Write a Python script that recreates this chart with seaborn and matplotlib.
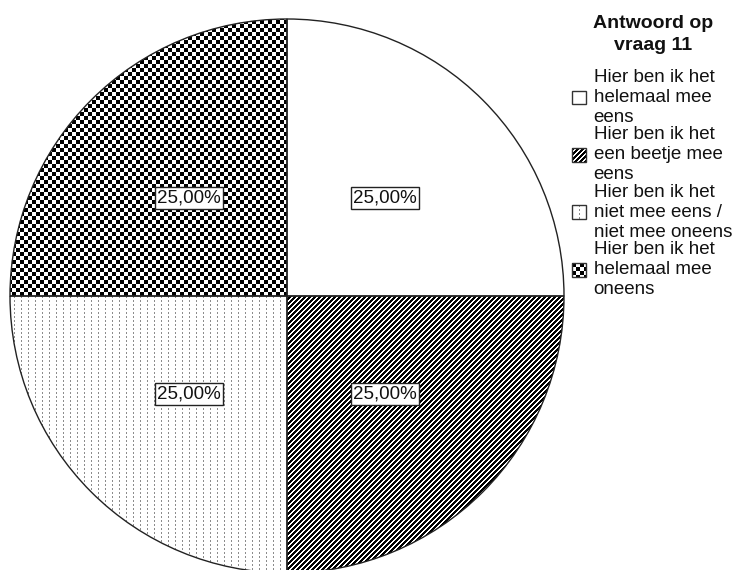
import numpy as np
import matplotlib
matplotlib.use("Agg")
import matplotlib.pyplot as plt
import seaborn as sns
from matplotlib.patches import Rectangle

sns.set_theme(style="white")
plt.rcParams['font.family'] = ['Liberation Sans', 'DejaVu Sans']

# ---- data ----
categories = [
    "Hier ben ik het\nhelemaal mee\neens",
    "Hier ben ik het\neen beetje mee\neens",
    "Hier ben ik het\nniet mee eens /\nniet mee oneens",
    "Hier ben ik het\nhelemaal mee\noneens",
]
values = [25.0, 25.0, 25.0, 25.0]
legend_title = "Antwoord op\nvraag 11"
patterns = ["white", "diag", "dots", "checker"]

W, H = 732, 570
fig = plt.figure(figsize=(W / 100, H / 100), dpi=100)
fig.patch.set_facecolor("white")
ax = fig.add_axes([10 / W, -3 / H, 554 / W, 554 / H])
ax.patch.set_visible(False)


def fmt(p):
    return f"{p:.2f}%".replace(".", ",")


wedges, texts, autotexts = ax.pie(
    values, startangle=90, counterclock=False, radius=1,
    autopct=fmt, pctdistance=0.5,
    wedgeprops=dict(facecolor="none", edgecolor="#222222", linewidth=1.0),
    textprops=dict(fontsize=13.5, color="#111111"),
)
for w in wedges:
    w.set_clip_on(False)
for t in autotexts:
    t.set_bbox(dict(boxstyle="square,pad=0.13", facecolor="white",
                    edgecolor="#222222", linewidth=1.0))
ax.set_xlim(-1, 1)
ax.set_ylim(-1, 1)
ax.set_aspect("equal")
ax.set_axis_off()


def texture(kind, h, w):
    iy, ix = np.mgrid[0:h, 0:w]
    img = np.ones((h, w, 3))
    if kind == "diag":
        mask = (ix + iy) % 5 < 3
        img[mask] = 0.0
    elif kind == "checker":
        mask = ((ix // 4) + (iy // 4)) % 2 == 0
        img[mask] = 0.0
    elif kind == "dots":
        mask = (ix % 7 == 0) & (iy % 4 < 2)
        img[mask] = 0.55
    return img


for w, kind in zip(wedges, patterns):
    if kind == "white":
        continue
    im = fig.figimage(texture(kind, H, W), xo=0, yo=0, zorder=-1, origin="upper")
    im.set_clip_path(w)

# legend title as separate centered text
fig.text(653 / W, 1 - 15 / H, legend_title, ha="center", va="top",
         multialignment="center", fontsize=14, fontweight="bold",
         color="#111111", linespacing=1.37)

handles = [Rectangle((0, 0), 1, 1, facecolor="none", edgecolor="#333333", linewidth=1.0)
           for _ in categories]
leg = fig.legend(handles, categories, loc="upper left",
                 bbox_to_anchor=(572 / W, 1 - 69 / H), frameon=False,
                 borderaxespad=0, borderpad=0, fontsize=13.5,
                 handlelength=0.75, handleheight=0.75,
                 handletextpad=0.4, labelspacing=0.03)
for t in leg.get_texts():
    t.set_color("#111111")
    t.set_linespacing(1.226)

fig.canvas.draw()
renderer = fig.canvas.get_renderer()
for hnd, kind in zip(leg.legend_handles, patterns):
    if kind == "white":
        continue
    bb = hnd.get_window_extent(renderer)
    x0, y0 = int(round(bb.x0)), int(round(bb.y0))
    ww, hh = int(round(bb.width)), int(round(bb.height))
    fig.figimage(texture(kind, hh, ww), xo=x0, yo=y0, zorder=-1, origin="upper")

fig.savefig("out.png", dpi=100)
